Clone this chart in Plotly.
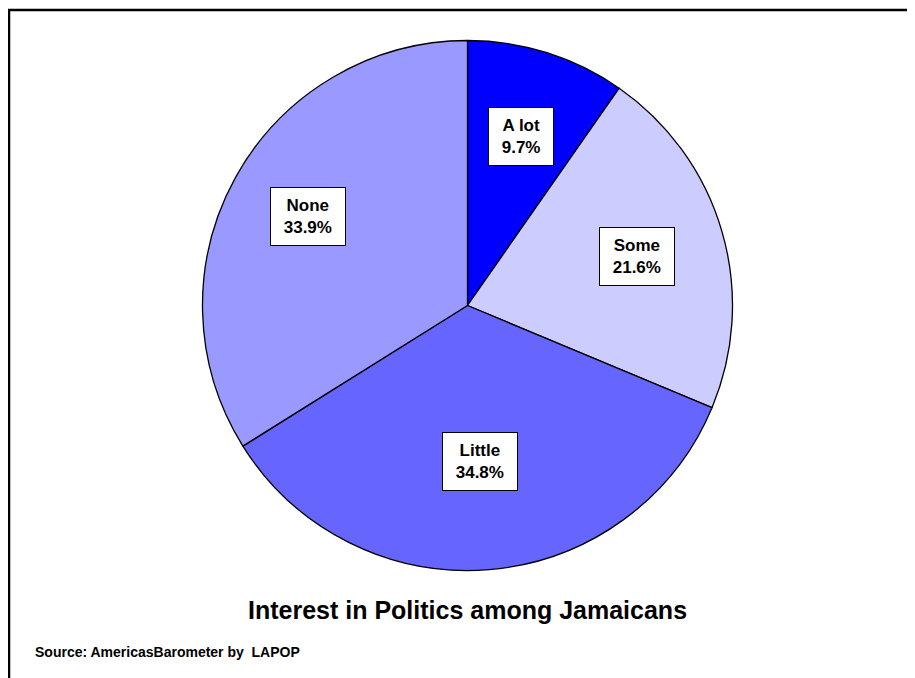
import math
import plotly.graph_objects as go

categories = ["A lot", "Some", "Little", "None"]
values = [9.7, 21.6, 34.8, 33.9]
colors = ["#0000FF", "#CCCCFF", "#6666FF", "#9999FF"]
title_text = "Interest in Politics among Jamaicans"
source_text = "Source: AmericasBarometer by  LAPOP"

W, H = 915, 678
OFF = 8  # page body margin
cx, cy, R = 467.5 - OFF, 305.5 - OFF, 265.0
label_frac = [0.667, 0.668, 0.59, 0.69]
FONT = "Liberation Sans, Arial, sans-serif"


def px_x(x):
    return x / W


def px_y(y):
    return 1 - y / H


fig = go.Figure()
fig.add_trace(go.Pie(
    labels=categories, values=values, sort=False, direction="clockwise",
    rotation=0,
    marker=dict(colors=colors, line=dict(color="black", width=1.3)),
    textinfo="none", hoverinfo="label+percent", showlegend=False,
    domain=dict(x=[px_x(cx - R), px_x(cx + R)], y=[px_y(cy + R), px_y(cy - R)]),
))

total = sum(values)
cum = 0.0
for cat, v, f in zip(categories, values, label_frac):
    mid = (cum + v / 2) / total * 2 * math.pi
    cum += v
    lx = cx + R * f * math.sin(mid)
    ly = cy - R * f * math.cos(mid)
    fig.add_annotation(
        x=px_x(lx), y=px_y(ly), xref="paper", yref="paper",
        xanchor="center", yanchor="middle",
        text=f"<b>&nbsp;{cat}&nbsp;<br>&nbsp;{v:.1f}%&nbsp;</b>",
        showarrow=False,
        font=dict(family=FONT, size=17, color="black"),
        bgcolor="white", bordercolor="black", borderwidth=1, borderpad=8,
        align="center",
    )

fig.add_annotation(
    x=px_x(467.5 - OFF), y=px_y(610 - OFF), xref="paper", yref="paper",
    text=f"<b>{title_text}</b>", showarrow=False,
    font=dict(family=FONT, size=25, color="black"),
    xanchor="center", yanchor="middle",
)
fig.add_annotation(
    x=px_x(33 - OFF), y=px_y(652 - OFF), xref="paper", yref="paper",
    text=f"<b>{source_text}</b>", showarrow=False,
    font=dict(family=FONT, size=14, color="black"),
    xanchor="left", yanchor="middle",
)

fig.add_shape(type="rect", xref="paper", yref="paper",
              x0=px_x(9 - OFF), x1=1.05, y0=-0.05, y1=px_y(10 - OFF),
              line=dict(color="black", width=2.5), fillcolor="rgba(0,0,0,0)")

fig.update_layout(
    width=W, height=H, margin=dict(l=0, r=0, t=0, b=0),
    paper_bgcolor="white", plot_bgcolor="white",
)
fig.write_html("out.html")
